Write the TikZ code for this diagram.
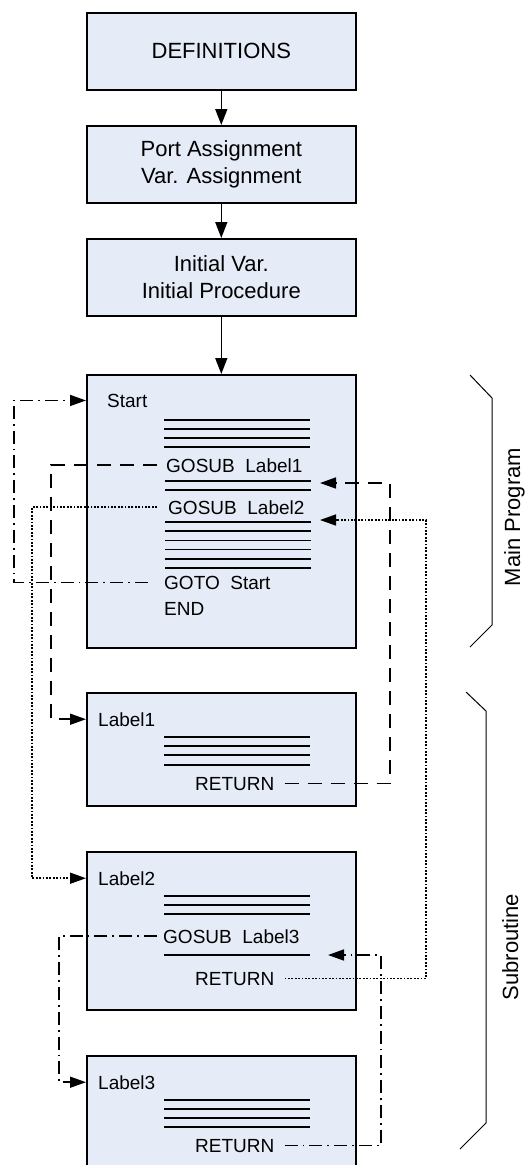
\documentclass[tikz,border=0pt]{standalone}
\usepackage{fontspec}
\setmainfont{Liberation Sans}
\usetikzlibrary{arrows.meta}
\definecolor{boxfill}{RGB}{230,236,247}
\begin{document}
\begin{tikzpicture}[x=1pt,y=-1pt,
  box/.style={draw=black, line width=1.6pt, fill=boxfill, minimum width=269pt, anchor=north west, inner sep=0pt},
  big/.style={font=\fontsize{22}{27}\selectfont, align=center},
  txt/.style={font=\fontsize{19}{23}\selectfont, inner sep=0pt, anchor=base west},
  side/.style={font=\fontsize{22}{27}\selectfont, inner sep=0pt, anchor=base, rotate=90},
  rulel/.style={line width=1.6pt},
  brace/.style={line width=1pt},
  flow/.style={line width=1.6pt, -{Triangle[length=16pt,width=12pt]}},
  conn/.style={line width=1.6pt, -{Triangle[length=16pt,width=11pt]}},
  ptDashed/.style={dash pattern=on 14pt off 9pt},
  ptDotted/.style={dash pattern=on 1.8pt off 1.6pt},
  ptDashDot/.style={dash pattern=on 13pt off 5pt on 1.8pt off 5pt}
]
\useasboundingbox (0,0) rectangle (531,1165);
\clip (0,0) rectangle (531,1165);

% top boxes
\node[box, minimum height=77pt, big] (def) at (86,12) {DEFINITIONS};
\node[box, minimum height=77pt, big] (port) at (86,125) {Port Assignment\\Var. Assignment};
\node[box, minimum height=77pt, big] (init) at (86,238) {Initial Var.\\Initial Procedure};

% program boxes
\node[box, minimum height=273pt] (start) at (86,374) {};
\node[box, minimum height=113pt] (lab1) at (86,692) {};
\node[box, minimum height=158pt] (lab2) at (86,851) {};
\node[box, minimum height=135pt] (lab3) at (86,1055) {};

% texts in start box
\node[txt] (startT) at (107,407) {Start};
\node[txt] (g1T) at (166,472) {GOSUB\ \ Label1};
\node[txt] (g2T) at (168,514) {GOSUB\ \ Label2};
\node[txt] (gotoT) at (164,589) {GOTO\ \ Start};
\node[txt] (endT) at (164,615) {END};
\foreach \y in {420,429,438,447} \draw[rulel] (164,\y) -- (310,\y);
\foreach \y in {481,490} \draw[rulel] (165,\y) -- (311,\y);
\foreach \y in {522,531.2,540.4,549.6,558.8,568} \draw[rulel] (165,\y) -- (311,\y);

% Label1 box
\node[txt] (lab1T) at (98,726) {Label1};
\foreach \y in {737,746,755,765} \draw[rulel] (164,\y) -- (310,\y);
\node[txt] (ret1) at (195,790) {RETURN};

% Label2 box
\node[txt] (lab2T) at (98,885) {Label2};
\foreach \y in {896,905,914} \draw[rulel] (164,\y) -- (310,\y);
\node[txt] (g3T) at (163,943) {GOSUB\ \ Label3};
\draw[rulel] (164,955) -- (310,955);
\node[txt] (ret2) at (195,985) {RETURN};

% Label3 box
\node[txt] (lab3T) at (98,1089) {Label3};
\foreach \y in {1100,1109,1118,1127} \draw[rulel] (164,\y) -- (310,\y);
\node[txt] (ret3) at (195,1152) {RETURN};

% main flow
\draw[flow] (def) -- (port);
\draw[flow] (port) -- (init);
\draw[flow] (init) -- (start);

% rails and return points
\coordinate (railA) at (14,0);
\coordinate (railB) at (51,0);
\coordinate (railC) at (32,0);
\coordinate (railD) at (59,0);
\coordinate (railE) at (390,0);
\coordinate (railF) at (426,0);
\coordinate (railG) at (381,0);
\coordinate (r1) at (320,483);
\coordinate (r2) at (320,520);
\coordinate (r3) at (328,955);

% calls
\draw[conn, ptDashDot] ([xshift=-16pt]gotoT.west) -| (railA |- startT.west) -- (start.west |- startT.west);
\draw[conn, ptDashed] ([xshift=-9pt]g1T.west) -| (railB |- lab1T.west) -- (lab1.west |- lab1T.west);
\draw[conn, ptDotted] ([xshift=-11pt]g2T.west) -| (railC |- lab2T.west) -- (lab2.west |- lab2T.west);
\draw[conn, ptDashDot] ([xshift=-6pt]g3T.west) -| (railD |- lab3T.west) -- (lab3.west |- lab3T.west);

% returns
\draw[conn, ptDashed] ([xshift=10pt]ret1.east) -| (railE |- r1) -- (r1);
\draw[conn, ptDotted] ([xshift=10pt]ret2.east) -| (railF |- r2) -- (r2);
\draw[conn, ptDashDot] ([xshift=10pt]ret3.east) -| (railG |- r3) -- (r3);

% brackets
\draw[brace] (470,375) -- (492,398) -- (492,625) -- (470,647);
\draw[brace] (466,692) -- (486,711) -- (486,1123) -- (460,1149);
\node[side] (mainL) at (520,517) {Main Program};
\node[side] (subL) at (518,947) {Subroutine};
\end{tikzpicture}
\end{document}
